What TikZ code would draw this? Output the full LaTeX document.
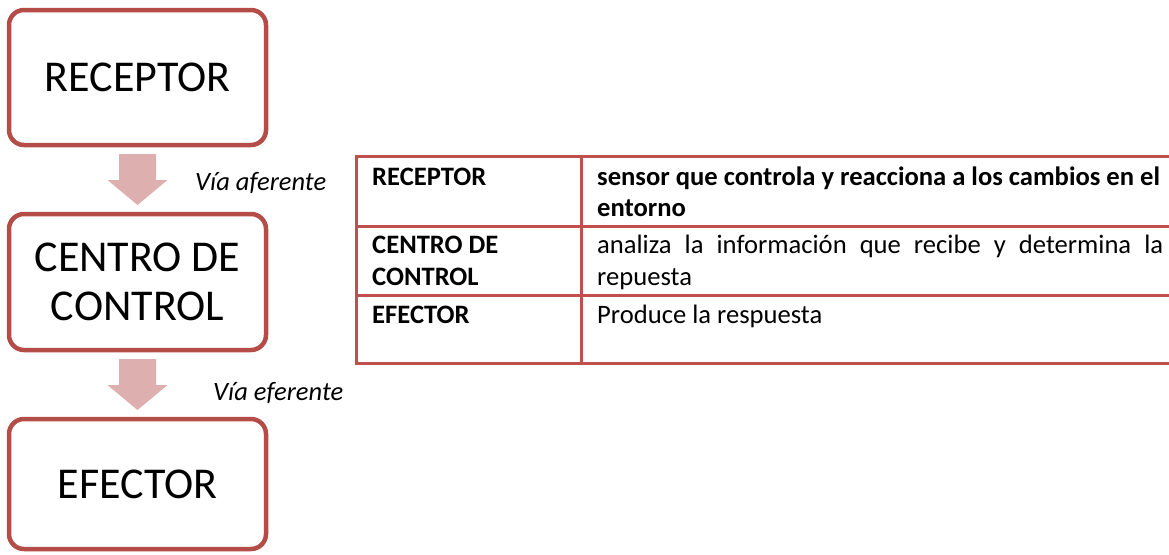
\documentclass[tikz,border=0pt]{standalone}
\usepackage{fontspec}
\setmainfont{Carlito}
\definecolor{borde}{RGB}{180,77,72}
\definecolor{linea}{RGB}{192,80,77}
\definecolor{rosa}{RGB}{221,176,175}
\tikzset{
  caja/.style={draw=borde, line width=4.5pt, rounded corners=15pt, fill=white,
    minimum width=257pt, outer sep=0pt, align=center,
    font=\fontsize{44}{49}\selectfont},
  flecha/.style={fill=rosa},
  via/.style={anchor=base west, inner sep=0pt, font=\fontsize{26.5}{31}\selectfont\itshape},
  celda/.style={anchor=base west, inner sep=0pt, font=\fontsize{26.6}{31}\selectfont},
  negrita/.style={anchor=base west, inner sep=0pt, font=\fontsize{26.6}{31}\selectfont\bfseries},
  rejilla/.style={draw=linea, line width=3pt}
}

\begin{document}
\begin{tikzpicture}[x=1pt,y=-1pt]
\useasboundingbox (0,0) rectangle (1169,554);

% esquema
\node[caja, minimum height=135pt] (rec) at (137.5,77.5) {RECEPTOR};
\node[caja, minimum height=136pt] (cen) at (137.5,282) {CENTRO DE\\CONTROL};
\node[caja, minimum height=130pt] (efe) at (137.5,484) {EFECTOR};

\foreach \a/\b in {rec/cen, cen/efe}
  \fill[flecha] ([xshift=-18.5pt,yshift=-9pt]\a.south) -- ([xshift=18.5pt,yshift=-9pt]\a.south)
    -- ([xshift=18.5pt,yshift=-35pt]\a.south) -- ([xshift=30pt,yshift=-35pt]\a.south)
    -- ([yshift=9pt]\b.north) -- ([xshift=-30pt,yshift=-35pt]\a.south)
    -- ([xshift=-18.5pt,yshift=-35pt]\a.south) -- cycle;

\node[via] (afe) at (195,190) {Vía aferente};
\node[via] (efr) at (213,400) {Vía eferente};

% tabla
\draw[rejilla] (356,156) rectangle (1185,363);
\draw[rejilla] (356,226) -- (1185,226);
\draw[rejilla] (356,295) -- (1185,295);
\draw[rejilla] (581,156) -- (581,363);

\node[negrita] (c1) at (372,185) {RECEPTOR};
\node[negrita] (d1) at (597,185) {sensor que controla y reacciona a los cambios en el};
\node[negrita] (d1b) at (597,216) {entorno};
\node[negrita] (c2) at (372,253) {CENTRO DE};
\node[negrita] (c2b) at (372,285) {CONTROL};
\node[celda] (d2) at (597,253) {\makebox[566pt][s]{analiza la información que recibe y determina la}};
\node[celda] (d2b) at (597,285) {repuesta};
\node[negrita] (c3) at (372,323) {EFECTOR};
\node[celda] (d3) at (597,323) {Produce la respuesta};
\end{tikzpicture}
\end{document}
